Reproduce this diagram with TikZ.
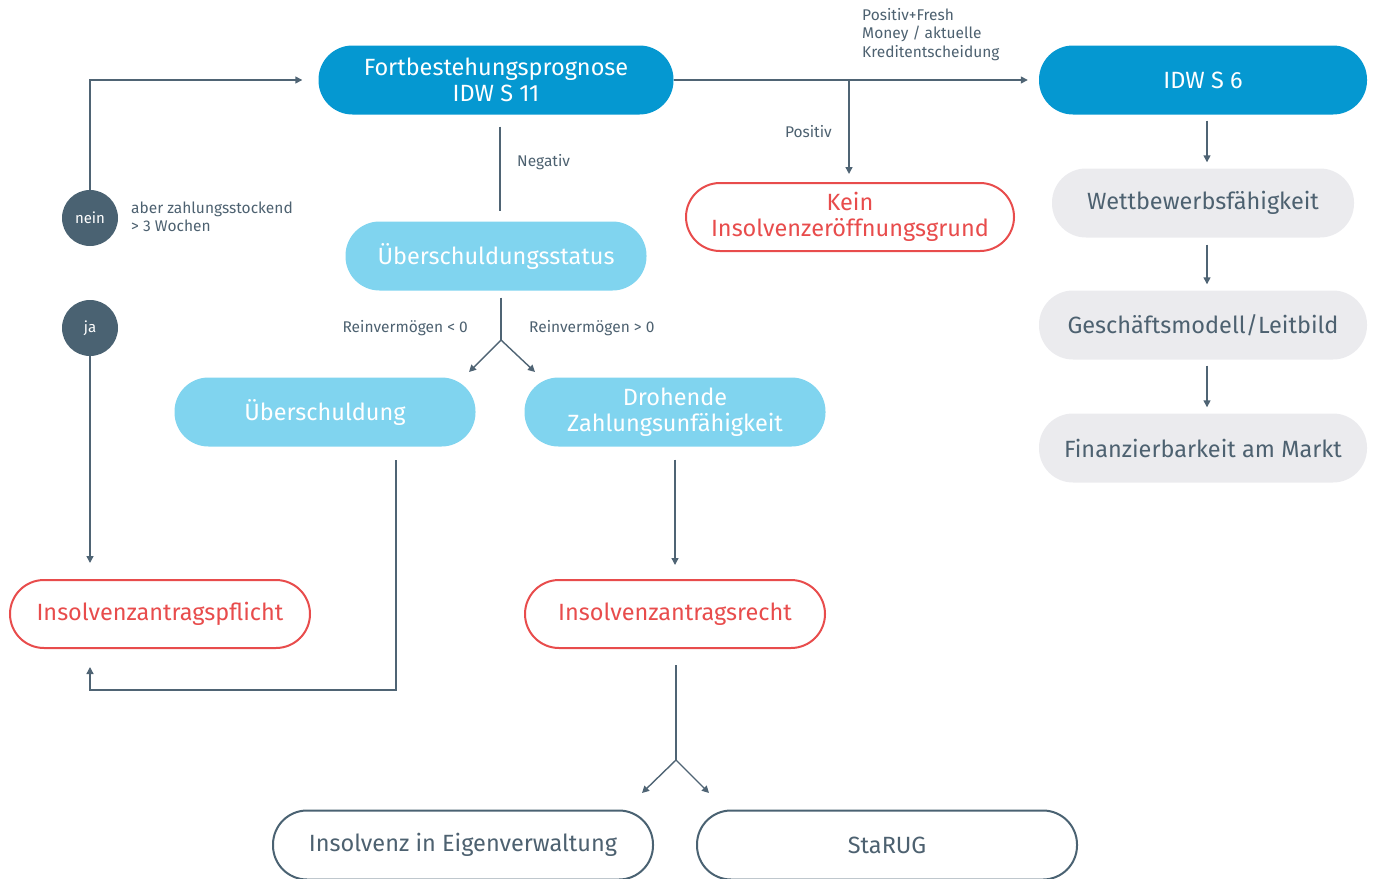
\documentclass[tikz,border=0pt]{standalone}
\usepackage{fontspec}
\setmainfont{Fira Sans}
\usetikzlibrary{arrows.meta}
\definecolor{dblue}{HTML}{0598D1}
\definecolor{lblue}{HTML}{80D4EF}
\definecolor{ired}{HTML}{E84C4C}
\definecolor{lgrey}{HTML}{EBEBEE}
\definecolor{tgrey}{HTML}{4D6170}
\definecolor{cgrey}{HTML}{4A6272}
\definecolor{lcol}{HTML}{4F6474}
\tikzset{
  pill/.style={rectangle, rounded corners=34pt, minimum height=69pt, align=center, inner sep=0pt, font=\fontsize{23.5}{26}\selectfont},
  darkpill/.style={pill, fill=dblue, text=white},
  lightpill/.style={pill, fill=lblue, text=white},
  redpill/.style={pill, draw=ired, line width=2pt, text=ired, fill=white},
  greypill/.style={pill, fill=lgrey, text=tgrey},
  outpill/.style={pill, draw=cgrey, line width=2pt, text=tgrey, fill=white},
  circ/.style={circle, fill=cgrey, text=white, minimum size=56pt, inner sep=0pt, font=\fontsize{15}{17}\selectfont},
  lbl/.style={text=tgrey, font=\fontsize{15.5}{18.5}\selectfont, inner sep=0pt, align=left},
  conn/.style={draw=lcol, line width=1.4pt},
  arr/.style={conn, -{Triangle[length=7pt,width=7pt]}},
}
\begin{document}
\begin{tikzpicture}[x=1pt,y=-1pt]
\useasboundingbox (0,0) rectangle (1375,878);
% nodes
\node[darkpill, minimum width=355pt] (fort) at (496,80) {Fortbestehungsprognose\\IDW S 11};
\node[darkpill, minimum width=328pt] (idw) at (1203,80) {IDW S 6};
\node[redpill, minimum width=328pt, minimum height=68pt] (kein) at (850,217) {Kein\\Insolvenzeröffnungsgrund};
\node[lightpill, minimum width=301pt] (ustat) at (496,256) {Überschuldungsstatus};
\node[lightpill, minimum width=301pt] (ueber) at (325,412) {Überschuldung};
\node[lightpill, minimum width=301pt] (droh) at (675,412) {Drohende\\Zahlungsunfähigkeit};
\node[redpill, minimum width=300pt, minimum height=68pt] (pflicht) at (160,614) {Insolvenzantragspflicht};
\node[redpill, minimum width=300pt, minimum height=68pt] (recht) at (675,614) {Insolvenzantragsrecht};
\node[outpill, minimum width=380pt] (eigen) at (463,845) {Insolvenz in Eigenverwaltung};
\node[outpill, minimum width=380pt] (starug) at (887,845) {StaRUG};
\node[greypill, minimum width=302pt] (wett) at (1203,203) {Wettbewerbsfähigkeit};
\node[greypill, minimum width=328pt] (gesch) at (1203,325) {Geschäftsmodell/Leitbild};
\node[greypill, minimum width=328pt] (finanz) at (1203,448) {Finanzierbarkeit am Markt};
\node[circ] (nein) at (90,218) {nein};
\node[circ] (ja) at (90,328) {ja};
% labels
\node[lbl, anchor=west] (l1) at (131,217) {aber zahlungsstockend\\> 3 Wochen};
\node[lbl, anchor=north west] (l2) at (862,8) {Positiv+Fresh\\Money / aktuelle\\Kreditentscheidung};
\node[lbl, anchor=east] (l3) at (832,132) {Positiv};
\node[lbl, anchor=west] (l4) at (517,162) {Negativ};
\node[lbl, anchor=east] (l5) at (468,328) {Reinvermögen < 0};
\node[lbl, anchor=west] (l6) at (529,328) {Reinvermögen > 0};
% coordinates
\coordinate (br) at (849,80);
\coordinate (s1) at (501,340);
\coordinate (s1l) at (469,372);
\coordinate (s1r) at (535,372);
\coordinate (ueout) at (396,460);
\coordinate (loop) at (90,690);
\coordinate (pin) at (90,667);
\coordinate (jaend) at (90,563);
\coordinate (s2) at (676,760);
\coordinate (s2l) at (642,793);
\coordinate (s2r) at (709,793);
% connectors
\draw[arr, shorten >=16pt] (nein.north) |- (fort.west);
\draw[arr, shorten >=11pt] (fort.east) -- (idw.west);
\draw[arr, shorten >=8pt] (br) -- (kein.north -| br);
\draw[conn, shorten <=12pt, shorten >=10pt] ([xshift=4pt]fort.south) -- ([xshift=4pt]ustat.south |- ustat.north);
\draw[conn, shorten <=7pt] ([xshift=5pt]ustat.south) -- (s1);
\draw[arr] (s1) -- (s1l);
\draw[arr] (s1) -- (s1r);
\draw[arr] (ueout) |- (loop) -- (pin);
\draw[arr] (ja.south) -- (jaend);
\draw[arr, shorten <=13pt, shorten >=14pt] (droh.south) -- (recht.north);
\draw[conn, shorten <=16pt] ([xshift=1pt]recht.south) -- (s2);
\draw[arr] (s2) -- (s2l);
\draw[arr] (s2) -- (s2r);
\draw[arr, shorten <=6pt, shorten >=6pt] ([xshift=4pt]idw.south) -- ([xshift=4pt]wett.north);
\draw[arr, shorten <=7pt, shorten >=6pt] ([xshift=4pt]wett.south) -- ([xshift=4pt]gesch.north);
\draw[arr, shorten <=6pt, shorten >=6pt] ([xshift=4pt]gesch.south) -- ([xshift=4pt]finanz.north);
\end{tikzpicture}
\end{document}
